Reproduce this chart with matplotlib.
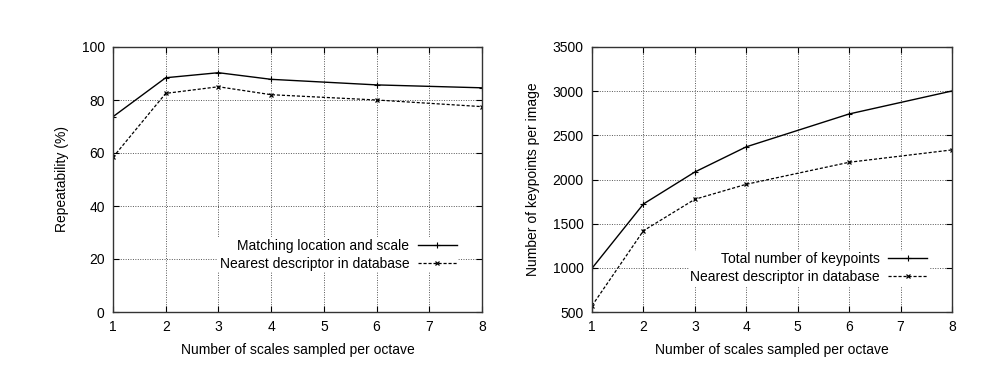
import matplotlib
matplotlib.use("Agg")
import matplotlib.pyplot as plt

plt.rcParams['font.family'] = ['Liberation Sans', 'DejaVu Sans']
plt.rcParams['font.size'] = 10

# dati
scales = [1, 2, 3, 4, 6, 8]
rep_match = [73.7, 88.4, 90.3, 87.8, 85.7, 84.6]
rep_nearest = [58.4, 82.5, 85.0, 82.0, 80.0, 77.5]
kp_total = [995, 1723, 2085, 2370, 2742, 3002]
kp_nearest = [571, 1420, 1776, 1946, 2195, 2335]

fig = plt.figure(figsize=(10.02, 3.69), dpi=100)
W, H = 1002, 369
ax1 = fig.add_axes([113 / W, 1 - 312 / H, (482 - 113) / W, (312 - 47) / H])
ax2 = fig.add_axes([592 / W, 1 - 312 / H, (952 - 592) / W, (312 - 47) / H])


def stile(ax):
    ax.set_xlim(1, 8)
    ax.set_xticks(range(1, 9))
    ax.grid(True, color='#555555', linestyle=(0, (1, 1.5)), linewidth=0.7)
    ax.tick_params(direction='in', top=True, right=True, length=4, width=0.8, pad=6)
    for s in ax.spines.values():
        s.set_linewidth(1.0)
        s.set_color('#333333')
    ax.set_xlabel('Number of scales sampled per octave', labelpad=6)


legenda = dict(loc='lower right', markerfirst=False, fancybox=False, framealpha=1,
               edgecolor='none', handlelength=2.8, borderpad=0.1, labelspacing=0.3,
               handletextpad=0.6, fontsize=10, borderaxespad=0)

# grafico a sinistra
ax1.plot(scales, rep_match, color='black', linewidth=1, marker='+', markersize=4,
         markeredgewidth=0.8, label='Matching location and scale')
ax1.plot(scales, rep_nearest, color='black', linewidth=0.9, linestyle=(0, (2.5, 1.5)),
         marker='x', markersize=3, markeredgewidth=0.9, label='Nearest descriptor in database')
ax1.set_ylim(0, 100)
ax1.set_yticks(range(0, 101, 20))
ax1.set_ylabel('Repeatability (%)', labelpad=9)
stile(ax1)
ax1.legend(bbox_to_anchor=(0.935, 0.15), **legenda)

# grafico a destra
ax2.plot(scales, kp_total, color='black', linewidth=1, marker='+', markersize=4,
         markeredgewidth=0.8, label='Total number of keypoints')
ax2.plot(scales, kp_nearest, color='black', linewidth=0.9, linestyle=(0, (2.5, 1.5)),
         marker='x', markersize=3, markeredgewidth=0.9, label='Nearest descriptor in database')
ax2.set_ylim(500, 3500)
ax2.set_yticks(range(500, 3501, 500))
ax2.set_ylabel('Number of keypoints per image', labelpad=9)
stile(ax2)
ax2.legend(bbox_to_anchor=(0.935, 0.10), **legenda)

fig.savefig('out.png', dpi=100)
